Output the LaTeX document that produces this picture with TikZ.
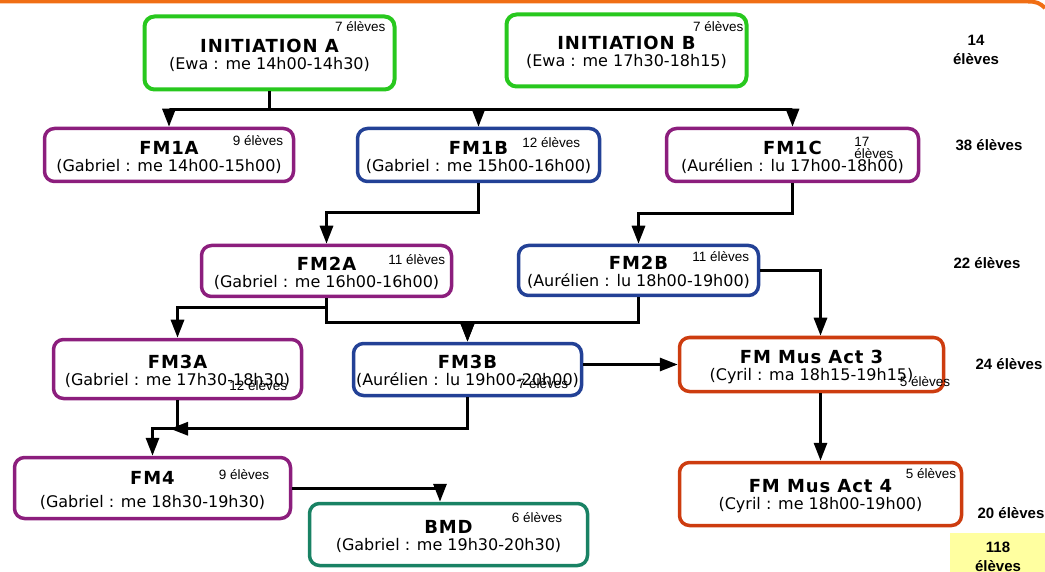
\documentclass[tikz,border=0pt]{standalone}
\usepackage{fontspec}
\setmainfont{DejaVu Sans}
\newfontfamily\arialfont{Liberation Sans}
\newfontfamily\titlefont{DejaVu Sans Bold}[LetterSpace=5]
\usetikzlibrary{arrows.meta, calc}
\definecolor{greenini}{RGB}{40,200,30}
\definecolor{purplefm}{RGB}{140,30,125}
\definecolor{bluefm}{RGB}{35,65,150}
\definecolor{redmus}{RGB}{205,60,15}
\definecolor{tealbmd}{RGB}{25,130,100}
\definecolor{orangetop}{RGB}{240,110,20}
\definecolor{yellowtot}{RGB}{255,255,160}
\newcommand{\ctitle}[1]{{\titlefont\fontsize{18}{18}\selectfont\rule{0pt}{18pt}#1}}

\begin{document}
\begin{tikzpicture}[x=1pt, y=-1pt,
  course/.style={draw=#1, line width=3.5pt, rounded corners=10pt, fill=white, align=center, inner sep=0pt, font=\fontsize{16}{17}\selectfont},
  nbel/.style={font=\arialfont\fontsize{13.5}{12}\selectfont, inner sep=0pt, anchor=base east},
  sumtxt/.style={font=\arialfont\bfseries\fontsize{15}{19}\selectfont, inner sep=0pt, anchor=base},
  wire/.style={line width=3pt},
  flow/.style={line width=3pt, -{Triangle[length=18pt,width=13pt]}}]
  \useasboundingbox (0,0) rectangle (1045,572);
  \draw[orangetop, line width=4pt] (0,1.5) -- (1028,1.5) .. controls (1036,1.5) and (1040,3) .. (1045,8);

  % initiation
  \node[course=greenini, line width=4pt, minimum width=250pt, minimum height=73pt] (iniA) at (269.5,53) {\ctitle{INITIATION A}\\(Ewa : me 14h00-14h30)};
  \node[course=greenini, line width=4pt, minimum width=240pt, minimum height=72pt] (iniB) at (626.5,50.5) {\ctitle{INITIATION B}\\(Ewa : me 17h30-18h15)};
  \node[nbel] (iniAn) at ($(iniA.north east)+(-11,17)$) {7 élèves};
  \node[nbel] (iniBn) at ($(iniB.north east)+(-5,19)$) {7 élèves};

  % FM1
  \node[course=purplefm, minimum width=249pt, minimum height=53pt] (fm1a) at (169,155) {\ctitle{FM1A}\\(Gabriel : me 14h00-15h00)};
  \node[course=bluefm, minimum width=242pt, minimum height=53pt] (fm1b) at (478.5,155) {\ctitle{FM1B}\\(Gabriel : me 15h00-16h00)};
  \node[course=purplefm, minimum width=252pt, minimum height=53pt] (fm1c) at (792.5,155) {\ctitle{FM1C}\\(Aurélien : lu 17h00-18h00)};
  \node[nbel] (fm1an) at ($(fm1a.north east)+(-12,19)$) {9 élèves};
  \node[nbel] (fm1bn) at ($(fm1b.north east)+(-21,21)$) {12 élèves};
  \node[nbel, anchor=north west, align=left] (fm1cn) at ($(fm1c.north east)+(-66,10)$) {17\\élèves};

  % FM2
  \node[course=purplefm, minimum width=250pt, minimum height=51pt] (fm2a) at (326.5,271) {\ctitle{FM2A}\\(Gabriel : me 16h00-16h00)};
  \node[course=bluefm, minimum width=240pt, minimum height=50pt] (fm2b) at (638.5,270.5) {\ctitle{FM2B}\\(Aurélien : lu 18h00-19h00)};
  \node[nbel] (fm2an) at ($(fm2a.north east)+(-8,21)$) {11 élèves};
  \node[nbel] (fm2bn) at ($(fm2b.north east)+(-11,18)$) {11 élèves};

  % FM3 et musique active
  \node[course=purplefm, minimum width=248pt, minimum height=59pt] (fm3a) at (177.5,369) {\ctitle{FM3A}\\(Gabriel : me 17h30-18h30)};
  \node[course=bluefm, minimum width=228pt, minimum height=52pt] (fm3b) at (467.5,369.5) {\ctitle{FM3B}\\(Aurélien : lu 19h00-20h00)};
  \node[course=redmus, minimum width=264pt, minimum height=54pt] (mus3) at (811.5,364.5) {\ctitle{FM Mus Act 3}\\(Cyril : ma 18h15-19h15)};
  \node[nbel] (fm3an) at ($(fm3a.south east)+(-16,-10)$) {12 élèves};
  \node[nbel] (fm3bn) at ($(fm3b.south east)+(-15,-9)$) {7 élèves};
  \node[nbel] (mus3n) at ($(mus3.south east)+(5,-7)$) {5 élèves};

  % FM4, BMD
  \node[course=purplefm, minimum width=276pt, minimum height=61pt] (fm4) at (152.5,488) {\ctitle{FM4}\\[6pt](Gabriel : me 18h30-19h30)};
  \node[course=tealbmd, minimum width=278pt, minimum height=62pt] (bmd) at (448.5,534.5) {\ctitle{BMD}\\(Gabriel : me 19h30-20h30)};
  \node[course=redmus, minimum width=282pt, minimum height=63pt] (mus4) at (820.5,494) {\ctitle{FM Mus Act 4}\\(Cyril : me 18h00-19h00)};
  \node[nbel] (fm4n) at ($(fm4.north east)+(-23,24)$) {9 élèves};
  \node[nbel] (bmdn) at ($(bmd.north east)+(-27,21)$) {6 élèves};
  \node[nbel] (mus4n) at ($(mus4.north east)+(-7,18)$) {5 élèves};

  % liaisons
  \draw[wire] (iniA.south) -- ++(0,18.5) coordinate (iniAbar);
  \draw[flow] (iniAbar) -| (fm1a.north);
  \draw[flow] (iniAbar) -| (fm1b.north);
  \draw[flow] (iniAbar) -| (fm1c.north);
  \draw[flow] (fm1b.south) -- ++(0,29.5) -| (fm2a.north);
  \draw[flow] (fm1c.south) -- ++(0,30.5) -| (fm2b.north);
  \draw[flow] (fm2a.south) -- ++(0,9.5) -| (fm3a.north);
  \draw[flow] (fm2a.south) -- ++(0,24.5) -| (fm3b.north);
  \draw[flow] (fm2b.south) -- ++(0,25.5) -| (fm3b.north);
  \draw[flow] (fm2b.east) -| (mus3.north -| mus4.north);
  \draw[flow] (fm3b.east |- mus3.west) -- (mus3.west);
  \draw[flow] (mus3.south -| mus4.north) -- (mus4.north);
  \draw[flow] (fm3a.south) -- ++(0,28.5) -| (fm4.north);
  \draw[flow] (fm3b.south) |- ($(fm3a.south)+(-7.5,28.5)$);
  \draw[flow] (fm4.east) -| ($(bmd.north)+(-8.5,0)$);

  % totaux
  \node[sumtxt, align=center, anchor=north] (tot1) at (976,35) {14\\élèves};
  \node[sumtxt] (tot2) at (989,151) {38 élèves};
  \node[sumtxt] (tot3) at (987,269) {22 élèves};
  \node[sumtxt] (tot4) at (1009,370) {24 élèves};
  \node[sumtxt] (tot5) at (1011,518) {20 élèves};
  \fill[yellowtot] (950,533) rectangle (1045,572);
  \node[sumtxt, align=center, anchor=north] (tot6) at (998,542) {118\\élèves};
\end{tikzpicture}
\end{document}
